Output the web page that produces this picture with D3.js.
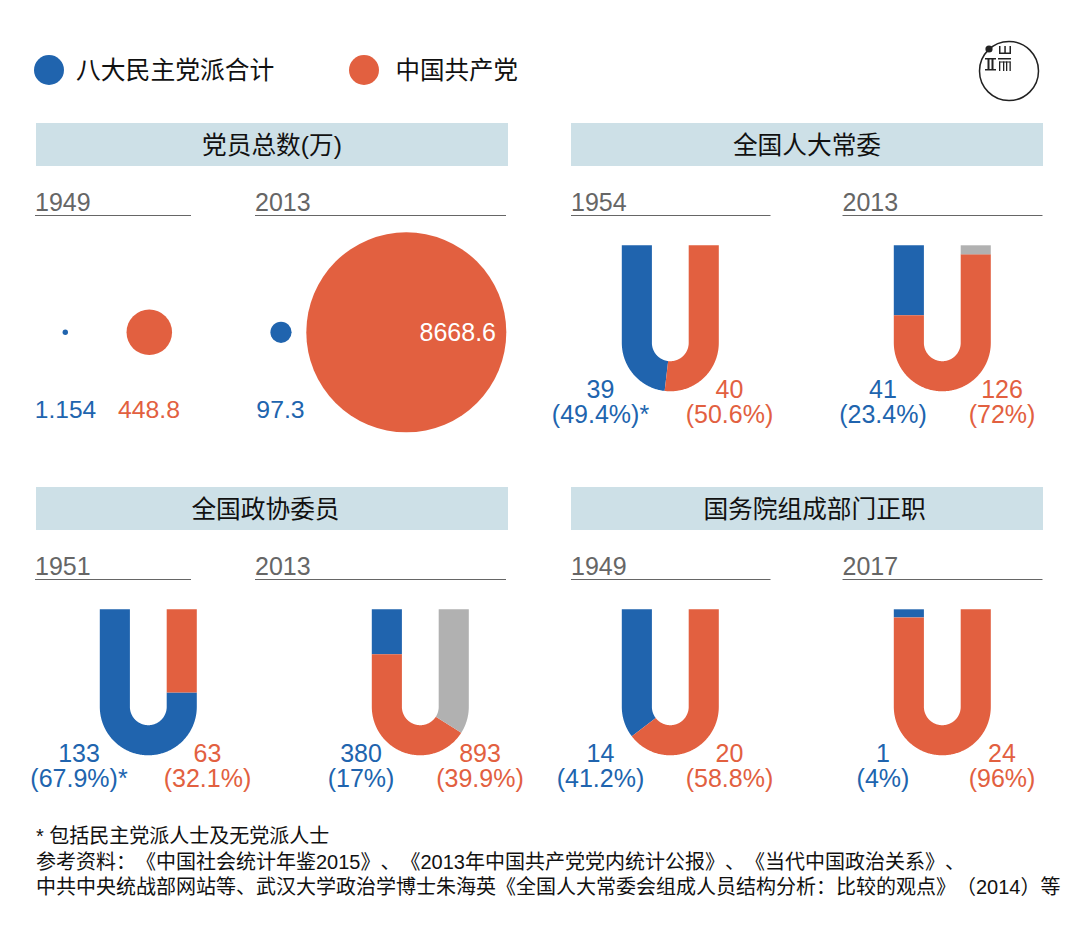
<!DOCTYPE html>
<html lang="zh">
<head>
<meta charset="utf-8">
<title>党派对比</title>
<script src="https://d3js.org/d3.v7.min.js"></script>
<style>
  body { margin: 0; background: #fff; }
  svg { display: block; }
  text { font-family: "Liberation Sans", "Noto Sans CJK SC", sans-serif; text-spacing-trim: space-all; font-kerning: none; }
</style>
</head>
<body>
<div id="chart"></div>
<script>
const blue = "#2064ae", orange = "#e26040", gray = "#b1b1b1", band = "#cde0e7", yearGray = "#666";

// legend + panel titles
const legendNames = ["八大民主党派合计", "中国共产党"];
const panelTitles = ["党员总数(万)", "全国人大常委", "全国政协委员", "国务院组成部门正职"];

// membership circles (10k people)
const memberYears = ["1949", "2013"];
const democraticMembers = [1.154, 97.3];
const communistMembers = [448.8, 8668.6];

// horseshoe charts
const seatYears = ["1954", "2013", "1951", "2013", "1949", "2017"];
const democraticSeats = ["39", "41", "133", "380", "14", "1"];
const communistSeats = ["40", "126", "63", "893", "20", "24"];
const democraticPct = ["(49.4%)*", "(23.4%)", "(67.9%)*", "(17%)", "(41.2%)", "(4%)"];
const communistPct = ["(50.6%)", "(72%)", "(32.1%)", "(39.9%)", "(58.8%)", "(96%)"];
// share of the horseshoe as drawn in the picture, read by eye (%)
const democraticDrawn = [48.7, 23.3, 72.3, 15, 39.8, 2.7];
const otherDrawn = [0, 3, 0, 38.8, 0, 0];

const footnotes = [
  "* 包括民主党派人士及无党派人士",
  "参考资料：《中国社会统计年鉴2015》、《2013年中国共产党党内统计公报》、《当代中国政治关系》、",
  "中共中央统战部网站等、武汉大学政治学博士朱海英《全国人大常委会组成人员结构分析：比较的观点》（2014）等"
];

const width = 1080, height = 927;
const svg = d3.select("#chart").append("svg")
  .attr("width", width).attr("height", height)
  .attr("viewBox", [0, 0, width, height]);

function label(x, y, str, color, size, anchor) {
  return svg.append("text")
    .attr("x", x).attr("y", y)
    .attr("fill", color)
    .attr("font-size", size)
    .attr("text-anchor", anchor || "middle")
    .text(str);
}

// legend
[[49, 76, 24.8], [364, 395.5, 24.5]].forEach((p, i) => {
  svg.append("circle").attr("cx", p[0]).attr("cy", 70).attr("r", 15).attr("fill", i ? orange : blue);
  label(p[1], 79, legendNames[i], "#111", p[2], "start");
});

// logo, drawn as little bars
const logoInk = "#222";
svg.append("circle").attr("cx", 1009).attr("cy", 71).attr("r", 29.5)
  .attr("fill", "none").attr("stroke", logoInk).attr("stroke-width", 1.5);
svg.append("circle").attr("cx", 989).attr("cy", 49).attr("r", 3.6).attr("fill", logoInk);
svg.append("g").attr("fill", logoInk).selectAll("rect")
  .data([
    [999, 52.5, 12, 1.5], [999, 46, 1.5, 7], [1004.3, 46, 1.5, 7], [1009.5, 46, 1.5, 7],
    [985, 58, 11, 1.5], [985, 69, 11, 1.5], [987.5, 58, 2, 12], [991.5, 58, 2, 12],
    [998, 58, 13, 1.5], [999, 61.5, 11.5, 1], [999, 61.5, 1.3, 9.5], [1003, 61.5, 1.3, 9.5],
    [1006, 61.5, 1.3, 9.5], [1009.5, 61.5, 1.3, 9.5]
  ])
  .enter().append("rect")
  .attr("x", d => d[0]).attr("y", d => d[1]).attr("width", d => d[2]).attr("height", d => d[3]);

// title bands
[[36, 123, 272], [571, 123, 807], [36, 487, 265.5], [571, 487, 814.5]].forEach((p, i) => {
  svg.append("rect").attr("x", p[0]).attr("y", p[1]).attr("width", 472).attr("height", 43).attr("fill", band);
  label(p[2], p[1] + 31, panelTitles[i], "#111", 24.7);
});

function yearHead(x0, x1, yLine, year) {
  label(x0, yLine - 4.5, year, yearGray, 25, "start");
  svg.append("line").attr("x1", x0).attr("x2", x1)
    .attr("y1", yLine).attr("y2", yLine)
    .attr("stroke", yearGray).attr("stroke-width", 1);
}

// membership circles
yearHead(35, 191, 215.5, memberYears[0]);
yearHead(255, 506, 215.5, memberYears[1]);

const rScale = d3.scaleSqrt().domain([0, d3.max(communistMembers)]).range([0, 100]);
const minDot = 2.7; // the smallest party is still shown as a visible dot
const circleCy = 332.3;
[[65.3, 149.3], [281, 406.3]].forEach((xs, i) => {
  svg.append("circle").attr("cx", xs[0]).attr("cy", circleCy)
    .attr("r", Math.max(rScale(democraticMembers[i]), minDot)).attr("fill", blue);
  svg.append("circle").attr("cx", xs[1]).attr("cy", circleCy)
    .attr("r", rScale(communistMembers[i])).attr("fill", orange);
});
label(65.5, 418, democraticMembers[0], blue, 24.5);
label(149, 418, communistMembers[0], orange, 24.8);
label(280.5, 418, democraticMembers[1], blue, 24.8);
label(496, 341, communistMembers[1], "#fff", 25, "end");

// horseshoe geometry
const rOuter = 48.5, rInner = 18.4, rMid = (rOuter + rInner) / 2, armLen = 97.5;
const bendLen = Math.PI * rMid, trackLen = 2 * armLen + bendLen;
const track = d3.scaleLinear().domain([0, 100]).range([0, trackLen]);

// point on the track at distance t, at radius r from the bend centre
function trackPoint(t, r) {
  if (t <= armLen) return [-r, t - armLen];
  if (t <= armLen + bendLen) {
    const a = (t - armLen) / rMid;
    return [-r * Math.cos(a), r * Math.sin(a)];
  }
  return [r, -(t - armLen - bendLen)];
}

const ribbon = d3.line();
function segmentPath(from, to) {
  const t0 = track(from), t1 = track(to);
  const stops = d3.range(t0, t1, 0.5).concat([t1]);
  [armLen, armLen + bendLen].forEach(b => { if (b > t0 && b < t1) stops.push(b); });
  stops.sort(d3.ascending);
  const outer = stops.map(t => trackPoint(t, rOuter));
  const inner = stops.map(t => trackPoint(t, rInner)).reverse();
  return ribbon(outer.concat(inner)) + "Z";
}

// cx, top of arms, left label x, right label x, header line ends
const seatLayout = [
  { cx: 670.3, top: 245.3, lx: 600.5, rx: 729.5, head: [571, 770.5] },
  { cx: 942.3, top: 245.3, lx: 883, rx: 1002, head: [842.5, 1042.5] },
  { cx: 148.3, top: 609.3, lx: 79, rx: 207.5, head: [35, 191] },
  { cx: 420.3, top: 609.3, lx: 361, rx: 480, head: [255, 506] },
  { cx: 670.3, top: 609.3, lx: 600.5, rx: 729.5, head: [571, 770.5] },
  { cx: 942.3, top: 609.3, lx: 883, rx: 1002, head: [842.5, 1042.5] }
];

seatLayout.forEach((c, i) => {
  yearHead(c.head[0], c.head[1], Math.floor(c.top) - 29.5, seatYears[i]);
  const g = svg.append("g").attr("transform", `translate(${c.cx},${c.top + armLen})`);
  const cut1 = democraticDrawn[i], cut2 = 100 - otherDrawn[i];
  const parts = [[0, cut1, blue], [cut1, cut2, orange], [cut2, 100, gray]];
  g.selectAll("path")
    .data(parts.filter(d => d[1] > d[0]))
    .enter()
    .append("path")
    .attr("d", d => segmentPath(d[0], d[1]))
    .attr("fill", d => d[2]);

  const y1 = c.top + 153, y2 = c.top + 178;
  label(c.lx, y1, democraticSeats[i], blue, 25);
  label(c.lx, y2, democraticPct[i], blue, 25);
  label(c.rx, y1, communistSeats[i], orange, 25);
  label(c.rx, y2, communistPct[i], orange, 25);
});

// footnotes
[843, 869, 894].forEach((y, i) => {
  label(36, y, footnotes[i], "#111", 20, "start");
});
</script>
</body>
</html>
